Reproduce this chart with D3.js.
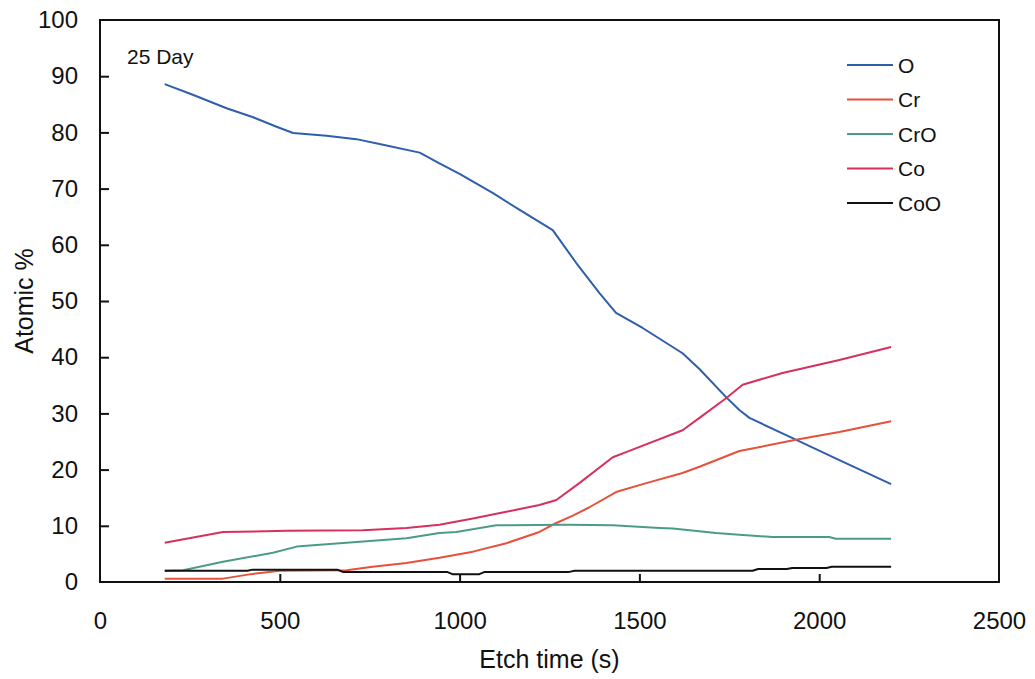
<!DOCTYPE html>
<html>
<head>
<meta charset="utf-8">
<script src="https://cdn.jsdelivr.net/npm/d3@7"></script>
<style>
  body { margin: 0; background: #fff; }
  text { font-family: "Liberation Sans", Arial, sans-serif; fill: #111; }
</style>
</head>
<body>
<div id="chart"></div>
<script>
// values (etch time in s, atomic %)
let oTime = [180, 258, 352, 426, 491, 537, 630, 713, 787, 889, 944, 1000, 1093, 1167, 1259, 1324, 1389, 1435, 1509, 1620, 1667, 1741, 1778, 1806, 1926, 2056, 2200];
let oVal  = [88.6, 86.7, 84.3, 82.7, 81.0, 79.9, 79.4, 78.8, 77.8, 76.4, 74.5, 72.6, 69.2, 66.2, 62.6, 56.8, 51.4, 47.9, 45.2, 40.7, 37.9, 32.9, 30.6, 29.2, 25.6, 21.7, 17.4];

let crTime = [180, 342, 420, 500, 686, 758, 852, 944, 1037, 1130, 1222, 1269, 1315, 1361, 1435, 1519, 1620, 1667, 1778, 1935, 2056, 2200];
let crVal  = [0.6, 0.6, 1.4, 2.0, 2.1, 2.7, 3.4, 4.3, 5.4, 6.9, 8.9, 10.5, 11.8, 13.3, 16.0, 17.6, 19.4, 20.5, 23.3, 25.3, 26.7, 28.6];

let croTime = [180, 231, 342, 481, 547, 667, 852, 944, 991, 1102, 1300, 1426, 1556, 1593, 1713, 1778, 1870, 2028, 2046, 2200];
let croVal  = [2.0, 2.1, 3.6, 5.2, 6.3, 6.9, 7.8, 8.7, 8.9, 10.1, 10.2, 10.1, 9.6, 9.5, 8.7, 8.4, 8.0, 8.0, 7.7, 7.7];

let coTime = [180, 342, 519, 731, 852, 944, 1037, 1130, 1222, 1269, 1333, 1426, 1463, 1620, 1667, 1741, 1787, 1898, 2056, 2200];
let coVal  = [7.0, 8.9, 9.1, 9.2, 9.6, 10.2, 11.3, 12.5, 13.7, 14.6, 17.6, 22.2, 23.1, 27.0, 29.2, 32.7, 35.1, 37.2, 39.5, 41.8];

let cooTime = [180, 410, 425, 660, 675, 965, 980, 1055, 1070, 1305, 1320, 1815, 1830, 1910, 1925, 2020, 2035, 2200];
let cooVal  = [2.0, 2.0, 2.2, 2.2, 1.8, 1.8, 1.4, 1.4, 1.8, 1.8, 2.0, 2.0, 2.3, 2.3, 2.5, 2.5, 2.7, 2.7];

let seriesNames = ["O", "Cr", "CrO", "Co", "CoO"];
let seriesColors = ["#2f5eab", "#e6513b", "#4a9c88", "#d8305c", "#111111"];
let xTicks = [0, 500, 1000, 1500, 2000, 2500];
let yTicks = [0, 10, 20, 30, 40, 50, 60, 70, 80, 90, 100];

let series = [
    {name: seriesNames[0], t: oTime, v: oVal},
    {name: seriesNames[1], t: crTime, v: crVal},
    {name: seriesNames[2], t: croTime, v: croVal},
    {name: seriesNames[3], t: coTime, v: coVal},
    {name: seriesNames[4], t: cooTime, v: cooVal}
];

let W = 1035, H = 679;
let margin = {top: 20, right: 36, bottom: 97, left: 100},
    width = W - margin.left - margin.right,
    height = H - margin.top - margin.bottom;

let svg = d3.select("#chart")
    .append("svg")
    .attr("width", W)
    .attr("height", H)
    .append("g")
    .attr("transform", "translate(" + margin.left + "," + margin.top + ")");

let x = d3.scaleLinear().domain([0, 2500]).range([0, width]);
let y = d3.scaleLinear().domain([0, 100]).range([height, 0]);

let xAxis = svg.append("g")
    .attr("transform", "translate(0," + height + ")")
    .call(d3.axisBottom(x).tickValues(xTicks).tickFormat(d3.format("d"))
        .tickSizeInner(-8).tickSizeOuter(0).tickPadding(30));

let yAxis = svg.append("g")
    .call(d3.axisLeft(y).tickValues(yTicks).tickFormat(d3.format("d"))
        .tickSizeInner(-9).tickSizeOuter(0).tickPadding(22));

[xAxis, yAxis].forEach(function(a) {
    a.select(".domain").remove();
    a.selectAll(".tick line").attr("stroke", "#111").attr("stroke-width", 2);
    a.selectAll(".tick text").style("font-size", "24px").attr("fill", "#111");
});
// no visible tick marks at the frame corners
xAxis.selectAll(".tick").filter(function(d) { return d == 0 || d == 2500; }).select("line").remove();
yAxis.selectAll(".tick").filter(function(d) { return d == 0 || d == 100; }).select("line").remove();

svg.append("rect")
    .attr("x", 0)
    .attr("y", 0)
    .attr("width", width)
    .attr("height", height)
    .attr("fill", "none")
    .attr("stroke", "#111")
    .attr("stroke-width", 2);

let line = d3.line()
    .x(function(d) { return x(d[0]); })
    .y(function(d) { return y(d[1]); });

series.forEach(function(s, i) {
    svg.append("path")
        .datum(s.t.map(function(t, j) { return [t, s.v[j]]; }))
        .attr("fill", "none")
        .attr("stroke", seriesColors[i])
        .attr("stroke-width", 2)
        .attr("stroke-linejoin", "round")
        .attr("d", line);
});

// legend
let legend = svg.append("g")
    .attr("transform", "translate(" + (847 - margin.left) + "," + (65 - margin.top) + ")");

seriesNames.forEach(function(name, i) {
    let row = legend.append("g").attr("transform", "translate(0," + (i * 34.5) + ")");
    row.append("line")
        .attr("x1", 0).attr("x2", 46)
        .attr("y1", 0).attr("y2", 0)
        .attr("stroke", seriesColors[i])
        .attr("stroke-width", 2);
    row.append("text")
        .attr("x", 51)
        .attr("y", 0)
        .attr("dy", "0.36em")
        .style("font-size", "21px")
        .text(name);
});

svg.append("text")
    .attr("x", 127 - margin.left)
    .attr("y", 64 - margin.top)
    .style("font-size", "21px")
    .text("25 Day");

svg.append("text")
    .attr("text-anchor", "middle")
    .attr("x", width / 2)
    .attr("y", 668 - margin.top)
    .style("font-size", "25px")
    .text("Etch time (s)");

svg.append("text")
    .attr("text-anchor", "middle")
    .attr("transform", "translate(" + (33 - margin.left) + "," + (height / 2) + ") rotate(-90)")
    .style("font-size", "25px")
    .text("Atomic %");
</script>
</body>
</html>
